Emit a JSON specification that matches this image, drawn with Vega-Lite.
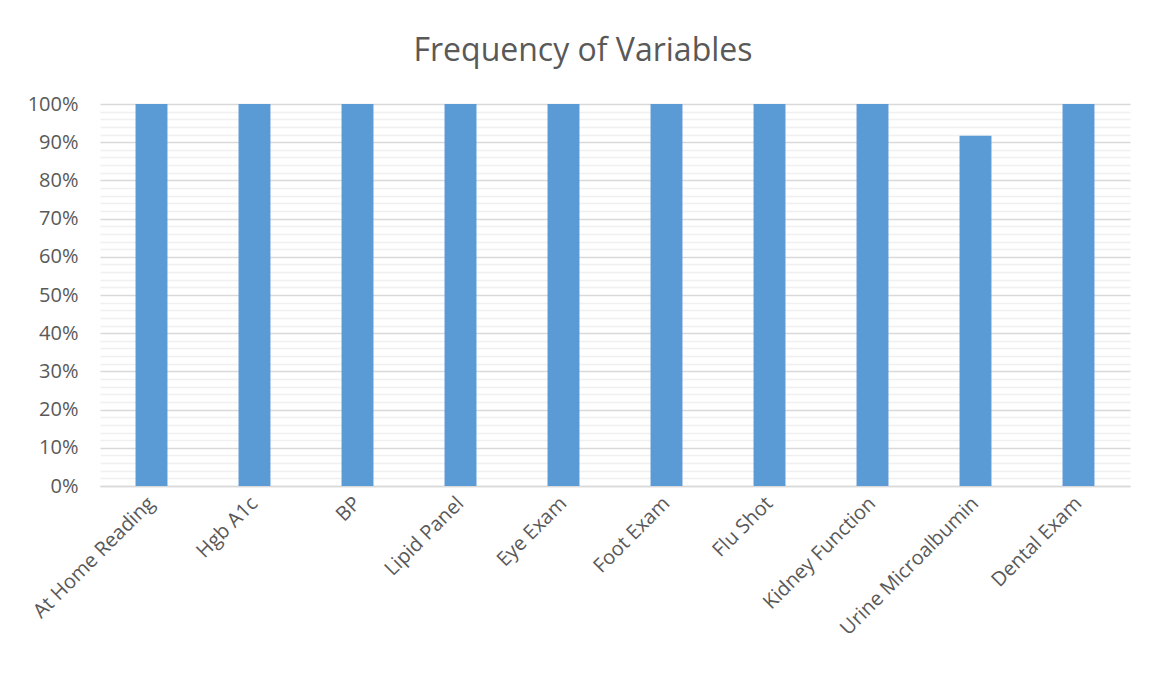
{
  "$schema": "https://vega.github.io/schema/vega-lite/v6.json",
  "width": 1030,
  "height": 382,
  "autosize": {"type": "none"},
  "padding": {"left": 100, "top": 104, "right": 22, "bottom": 189},
  "background": "white",
  "title": {
    "text": "Frequency of Variables",
    "font": "Open Sans",
    "fontSize": 32,
    "fontWeight": "normal",
    "color": "#595959",
    "anchor": "middle",
    "dx": -32,
    "baseline": "alphabetic",
    "offset": 1
  },
  "data": {
    "values": [
      {"variable": "At Home Reading", "frequency": 1.0},
      {"variable": "Hgb A1c", "frequency": 1.0},
      {"variable": "BP", "frequency": 1.0},
      {"variable": "Lipid Panel", "frequency": 1.0},
      {"variable": "Eye Exam", "frequency": 1.0},
      {"variable": "Foot Exam", "frequency": 1.0},
      {"variable": "Flu Shot", "frequency": 1.0},
      {"variable": "Kidney Function", "frequency": 1.0},
      {"variable": "Urine Microalbumin", "frequency": 0.9167},
      {"variable": "Dental Exam", "frequency": 1.0}
    ]
  },
  "mark": {"type": "bar", "color": "#5b9bd5"},
  "encoding": {
    "x": {
      "field": "variable",
      "type": "nominal",
      "sort": null,
      "scale": {"paddingInner": 0.69, "paddingOuter": 0.345},
      "axis": {
        "title": null,
        "labelAngle": -45,
        "labelAlign": "right",
        "labelBaseline": "middle",
        "labelPadding": 14,
        "labelLimit": 0,
        "labelFont": "Open Sans",
        "labelFontSize": 20,
        "labelColor": "#595959",
        "ticks": false,
        "domainColor": "#d9d9d9",
        "domainWidth": 1.5,
        "grid": false
      }
    },
    "y": {
      "field": "frequency",
      "type": "quantitative",
      "scale": {"domain": [0, 1], "nice": false},
      "axis": {
        "title": null,
        "values": [0, 0.02, 0.04, 0.06, 0.08, 0.1, 0.12, 0.14, 0.16, 0.18, 0.2, 0.22, 0.24, 0.26, 0.28, 0.3, 0.32, 0.34, 0.36, 0.38, 0.4, 0.42, 0.44, 0.46, 0.48, 0.5, 0.52, 0.54, 0.56, 0.58, 0.6, 0.62, 0.64, 0.66, 0.68, 0.7, 0.72, 0.74, 0.76, 0.78, 0.8, 0.82, 0.84, 0.86, 0.88, 0.9, 0.92, 0.94, 0.96, 0.98, 1.0],
        "labelExpr": "round(datum.value * 50) % 5 == 0 ? format(datum.value, '.0%') : ''",
        "labelFont": "Open Sans",
        "labelFontSize": 20,
        "labelColor": "#595959",
        "labelPadding": 22,
        "labelOverlap": false,
        "ticks": false,
        "domain": false,
        "grid": true,
        "gridColor": {"condition": {"test": "round(datum.value * 50) % 5 == 0", "value": "#d9d9d9"}, "value": "#f0f0f0"},
        "gridWidth": 1.3
      }
    }
  },
  "config": {
    "view": {"stroke": null}
  }
}
